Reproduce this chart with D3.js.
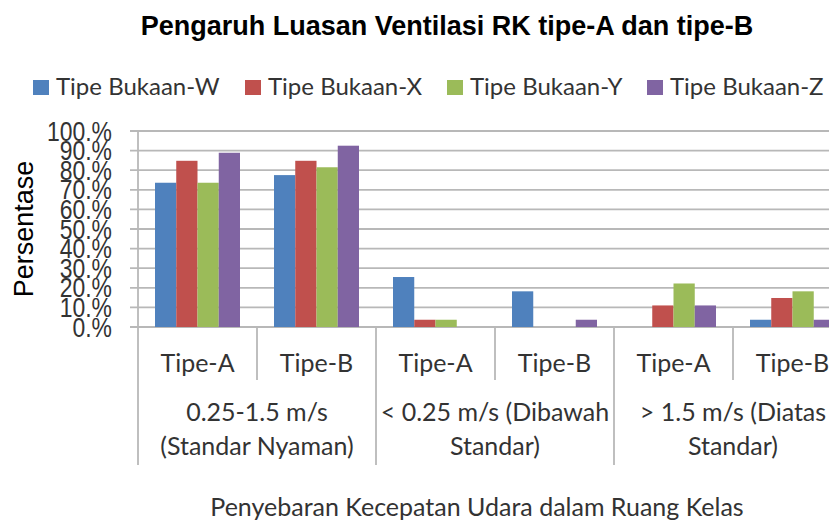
<!DOCTYPE html>
<html>
<head>
<meta charset="utf-8">
<script src="https://cdn.jsdelivr.net/npm/d3@7"></script>
<style>
  body { margin: 0; background: #fff; }
  svg { display: block; }
</style>
</head>
<body>
<svg id="chart" width="829" height="522"></svg>
<script>
const categories = ["Tipe-A", "Tipe-B", "Tipe-A", "Tipe-B", "Tipe-A", "Tipe-B"]
const groupLabels = [
    ["0.25-1.5 m/s", "(Standar Nyaman)"],
    ["< 0.25 m/s (Dibawah", "Standar)"],
    ["> 1.5 m/s (Diatas", "Standar)"]
]
const seriesNames = ["Tipe Bukaan-W", "Tipe Bukaan-X", "Tipe Bukaan-Y", "Tipe Bukaan-Z"]
const valuesW = [73.6, 77.5, 25.5, 18.2, 0, 3.7]
const valuesX = [84.8, 84.8, 3.7, 0, 11.0, 14.8]
const valuesY = [73.6, 81.5, 3.7, 0, 22.2, 18.2]
const valuesZ = [88.9, 92.5, 0, 3.7, 11.0, 3.7]
const yTicks = [0, 10, 20, 30, 40, 50, 60, 70, 80, 90, 100]

const series = [valuesW, valuesX, valuesY, valuesZ]
const colors = ["#4f81bd", "#c0504d", "#9bbb59", "#8064a2"]

const svg = d3.select("#chart")
const plotLeft = 138, plotTop = 131, plotBottom = 327, catW = 119
const calibri = "Lato, 'Open Sans', sans-serif"

const y = d3.scaleLinear().domain([0, 100]).range([plotBottom, plotTop])
const x0 = d3.scaleBand().domain(d3.range(categories.length))
    .range([plotLeft, plotLeft + catW * categories.length])
const x1 = d3.scaleBand().domain(d3.range(series.length))
    .range([0, x0.bandwidth()]).paddingInner(0).paddingOuter(0.8)

// title
svg.append("text")
    .attr("x", 447).attr("y", 35)
    .attr("text-anchor", "middle")
    .style("font-family", "'Liberation Sans', Arial, sans-serif")
    .style("font-weight", "bold")
    .style("font-size", "27px")
    .text("Pengaruh Luasan Ventilasi RK tipe-A dan tipe-B")

// legend
const legendX = [33, 245, 447, 647]
const legend = svg.selectAll(".legend")
    .data(seriesNames)
    .enter().append("g")
    .attr("class", "legend")
    .attr("transform", (d, i) => `translate(${legendX[i]},0)`)
legend.append("rect")
    .attr("x", 0).attr("y", 80).attr("width", 16).attr("height", 15)
    .attr("fill", (d, i) => colors[i])
legend.append("text")
    .attr("x", 23).attr("y", 95)
    .style("font-family", calibri)
    .style("font-size", "24px")
    .attr("fill", "#333")
    .text(d => d)

// gridlines + ticks
svg.append("g").selectAll("line")
    .data(yTicks)
    .enter().append("line")
    .attr("x1", plotLeft - 8).attr("x2", 829)
    .attr("y1", d => y(d)).attr("y2", d => y(d))
    .attr("stroke", "#b8b8b8")
    .attr("stroke-width", 1.8)

svg.append("g").selectAll("text")
    .data(yTicks)
    .enter().append("text")
    .attr("transform", d => `translate(112,${y(d) + 9.5}) scale(0.85,1)`)
    .attr("text-anchor", "end")
    .style("font-family", "'Liberation Sans', Arial, sans-serif")
    .style("font-size", "27px")
    .attr("fill", "#333")
    .text(d => d + ".%")

svg.append("text")
    .attr("transform", "translate(33,229) rotate(-90)")
    .attr("text-anchor", "middle")
    .style("font-family", "'Liberation Sans', Arial, sans-serif")
    .style("font-size", "27px")
    .text("Persentase")

// bars
const bars = svg.append("g").selectAll("g")
    .data(series)
    .enter().append("g")
    .attr("fill", (d, i) => colors[i])
bars.each(function (vals, s) {
    d3.select(this).selectAll("rect")
        .data(vals)
        .enter().append("rect")
        .attr("x", (d, i) => x0(i) + x1(s))
        .attr("width", x1.bandwidth())
        .attr("y", d => y(d))
        .attr("height", d => y(0) - y(d))
})

// category axis lines
svg.append("line")
    .attr("x1", plotLeft).attr("x2", plotLeft).attr("y1", plotTop).attr("y2", 465)
    .attr("stroke", "#b8b8b8").attr("stroke-width", 1.8)
svg.append("g").selectAll("line")
    .data(d3.range(1, categories.length))
    .enter().append("line")
    .attr("x1", d => x0(d)).attr("x2", d => x0(d))
    .attr("y1", plotBottom).attr("y2", d => d % 2 === 0 ? 465 : 380)
    .attr("stroke", "#b8b8b8").attr("stroke-width", 1.8)

svg.append("g").selectAll("text")
    .data(categories)
    .enter().append("text")
    .attr("x", (d, i) => x0(i) + x0.bandwidth() / 2)
    .attr("y", 372)
    .attr("text-anchor", "middle")
    .style("font-family", calibri)
    .style("font-size", "25px")
    .attr("fill", "#333")
    .text(d => d)

const grp = svg.append("g").selectAll("text")
    .data(groupLabels)
    .enter().append("text")
    .attr("text-anchor", "middle")
    .style("font-family", calibri)
    .style("font-size", "25px")
    .attr("fill", "#333")
grp.selectAll("tspan")
    .data((d, i) => d.map(t => ({ t, i })))
    .enter().append("tspan")
    .attr("x", d => x0(d.i * 2 + 1))
    .attr("y", (d, j) => 421 + j * 34)
    .text(d => d.t)

svg.append("text")
    .attr("x", 477).attr("y", 516)
    .attr("text-anchor", "middle")
    .style("font-family", calibri)
    .style("font-size", "25px")
    .attr("fill", "#333")
    .text("Penyebaran Kecepatan Udara dalam Ruang Kelas")
</script>
</body>
</html>
